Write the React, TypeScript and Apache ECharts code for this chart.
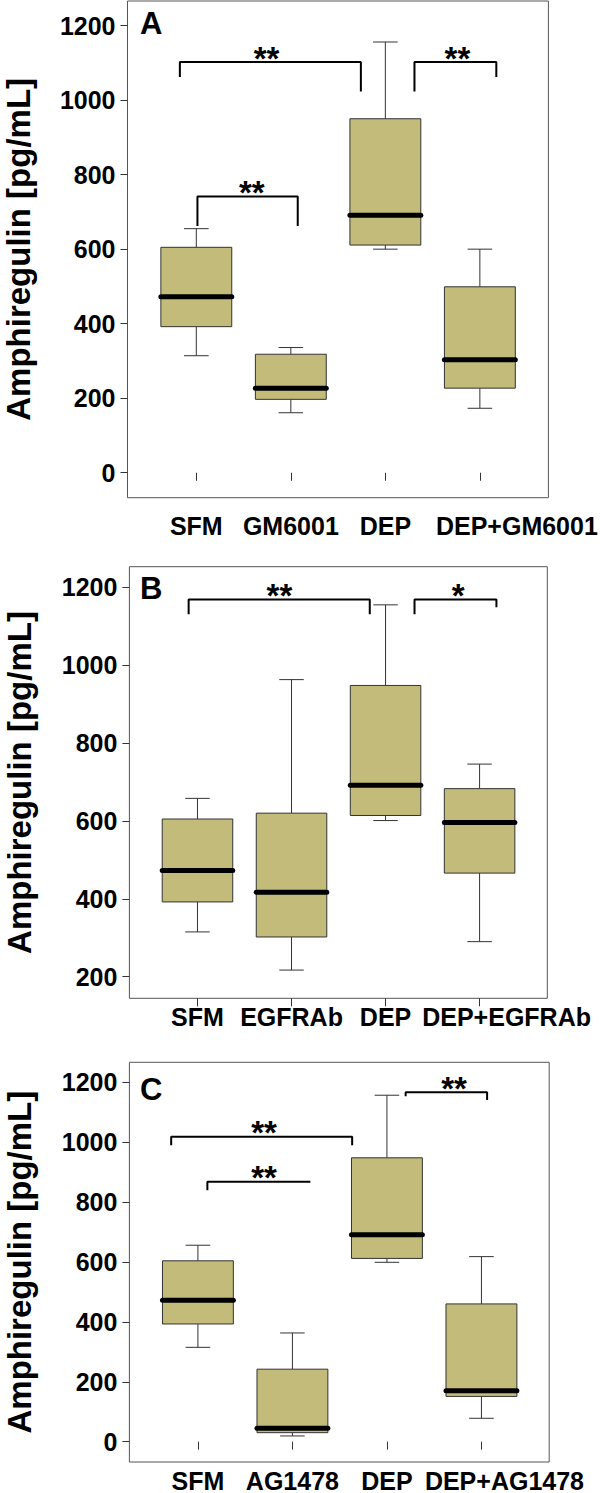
import React, { useEffect, useRef } from "react";
import * as echarts from "echarts";

const FONT = '"Liberation Sans", Arial, Helvetica, sans-serif';
const Y_TITLE = "Amphiregulin [pg/mL]";

// Panel A
const catsA = ["SFM", "GM6001", "DEP", "DEP+GM6001"];
const lowA = [314, 161, 600, 173];
const q1A = [392, 197, 611, 227];
const medA = [472, 227, 691, 303];
const q3A = [605, 318, 950, 499];
const highA = [655, 336, 1156, 600];
const ticksA = [0, 200, 400, 600, 800, 1000, 1200];
// brackets: [xLeft, yLeftEnd, xRight, yRightEnd, yTop, starX, stars]
const bracketsA: [number, number, number, number, number, number, string][] = [
  [0.826, 1062, 2.741, 1023, 1102, 1.743, "**"],
  [3.308, 1023, 4.174, 1062, 1102, 3.762, "**"],
  [1.012, 662, 2.073, 662, 741, 1.587, "**"],
];

// Panel B
const catsB = ["SFM", "EGFRAb", "DEP", "DEP+EGFRAb"];
const lowB = [315, 217, 601, 290];
const q1B = [392, 302, 614, 466];
const medB = [473, 417, 692, 596];
const q3B = [605, 620, 948, 683];
const highB = [658, 963, 1155, 746];
const ticksB = [200, 400, 600, 800, 1000, 1200];
const bracketsB: [number, number, number, number, number, number, string][] = [
  [0.906, 1131, 2.832, 1131, 1169, 1.871, "**"],
  [3.308, 1131, 4.179, 1149, 1169, 3.772, "*"],
];

// Panel C
const catsC = ["SFM", "AG1478", "DEP", "DEP+AG1478"];
const lowC = [315, 19, 599, 78];
const q1C = [393, 30, 612, 151];
const medC = [472, 44.5, 691, 170];
const q3C = [604, 242, 948, 460];
const highC = [656, 363, 1157, 618];
const ticksC = [0, 200, 400, 600, 800, 1000, 1200];
const bracketsC: [number, number, number, number, number, number, string][] = [
  [0.717, 990, 2.632, 990, 1018.6, 1.7, "**"],
  [1.1, 840, 2.19, 868, 868, 1.7, "**"],
  [3.198, 1154, 4.06, 1141, 1166.6, 3.71, "**"],
];

const panels = [
  { letter: "A", cats: catsA, low: lowA, q1: q1A, med: medA, q3: q3A, high: highA, ticks: ticksA, brackets: bracketsA,
    grid: { left: 127.5, top: 1, right: 51.6, height: 496.7 }, x: [0.272, 4.725], y: [-67, 1266], letterTop: 8, lastShift: 37, xMargin: 16 },
  { letter: "B", cats: catsB, low: lowB, q1: q1B, med: medB, q3: q3B, high: highB, ticks: ticksB, brackets: bracketsB,
    grid: { left: 129.4, top: 566.7, right: 52.7, height: 431.6 }, x: [0.276, 4.72], y: [144.5, 1253], letterTop: 573, lastShift: 27, xMargin: 6 },
  { letter: "C", cats: catsC, low: lowC, q1: q1C, med: medC, q3: q3C, high: highC, ticks: ticksC, brackets: bracketsC,
    grid: { left: 129.4, top: 1062.3, right: 50.8, height: 399.7 }, x: [0.275, 4.717], y: [-68, 1267], letterTop: 1074, lastShift: 23, xMargin: 6 },
];

const BOX_HALF = 0.375;
const CAP_HALF = 0.13;
const STAR_RAISE = 4; // px above the bracket line (glyph centre)

function renderBox(params: any, api: any) {
  const x = api.value(0);
  const low = api.value(1);
  const q1 = api.value(2);
  const med = api.value(3);
  const q3 = api.value(4);
  const high = api.value(5);
  const pt = (dx: number, v: number) => api.coord([x + dx, v]);
  const thin = { stroke: "#333", lineWidth: 1 };
  const l = (a: number[], b: number[], style: any) => ({
    type: "line",
    shape: { x1: a[0], y1: a[1], x2: b[0], y2: b[1] },
    style,
  });
  const tl = pt(-BOX_HALF, q3);
  const br = pt(BOX_HALF, q1);
  return {
    type: "group",
    children: [
      l(pt(0, q3), pt(0, high), thin),
      l(pt(-CAP_HALF, high), pt(CAP_HALF, high), thin),
      l(pt(0, low), pt(0, q1), thin),
      l(pt(-CAP_HALF, low), pt(CAP_HALF, low), thin),
      {
        type: "rect",
        shape: { x: tl[0], y: tl[1], width: br[0] - tl[0], height: br[1] - tl[1] },
        style: { fill: "#c2bb7a", stroke: "#333", lineWidth: 1 },
      },
      l(pt(-BOX_HALF, med), pt(BOX_HALF, med), { stroke: "#000", lineWidth: 5, lineCap: "round" }),
    ],
  };
}

export default function App() {
  const ref = useRef<HTMLDivElement>(null);
  useEffect(() => {
    document.body.style.margin = "0";
    if (!ref.current) return;
    const chart = echarts.init(ref.current, null, { renderer: "svg" });
    const textBase = { fontFamily: FONT, fontWeight: "bold" as const, color: "#000" };
    const grids: any[] = [];
    const xAxes: any[] = [];
    const yAxes: any[] = [];
    const series: any[] = [];
    const titles: any[] = [];
    panels.forEach((p, i) => {
      grids.push({
        ...p.grid,
        show: true,
        borderColor: "#555",
        borderWidth: 1,
        backgroundColor: "transparent",
        containLabel: false,
        outerBoundsMode: "none",
      });
      xAxes.push({
        gridIndex: i,
        type: "value",
        position: "bottom",
        offset: 0,
        min: p.x[0],
        max: p.x[1],
        axisLine: { show: false },
        splitLine: { show: false },
        axisTick: { show: true, customValues: [1, 2, 3, 4], length: 8, lineStyle: { color: "#333" } },
        axisLabel: {
          customValues: [1, 2, 3],
          formatter: (v: number) => p.cats[Math.round(v) - 1] ?? "",
          fontSize: 25,
          margin: p.xMargin,
          ...textBase,
        },
      });
      xAxes.push({
        gridIndex: i,
        type: "value",
        position: "bottom",
        offset: 0,
        min: p.x[0],
        max: p.x[1],
        axisLine: { show: false },
        splitLine: { show: false },
        axisTick: { show: false },
        axisLabel: {
          customValues: [4],
          formatter: () => "{s|" + p.cats[3] + "}",
          margin: p.xMargin,
          ...textBase,
          fontSize: 25,
          rich: {
            s: { ...textBase, fontSize: 25, padding: [0, 0, 0, 2 * p.lastShift] },
          },
        },
      });
      yAxes.push({
        gridIndex: i,
        type: "value",
        min: p.y[0],
        max: p.y[1],
        axisLine: { show: false },
        splitLine: { show: false },
        axisTick: { show: true, customValues: p.ticks, length: 7, lineStyle: { color: "#333" } },
        axisLabel: {
          customValues: p.ticks,
          formatter: (v: number) => String(Math.round(v)),
          fontSize: 25,
          margin: 12,
          ...textBase,
        },
        name: Y_TITLE,
        nameLocation: "middle",
        nameRotate: 90,
        nameGap: 93,
        nameTextStyle: { fontSize: 33, ...textBase },
      });
      titles.push({
        text: p.letter,
        left: 140,
        top: p.letterTop,
        padding: 0,
        textStyle: { fontSize: 31, ...textBase },
      });
      const xi = 2 * i;
      series.push({
        type: "custom",
        xAxisIndex: xi,
        yAxisIndex: i,
        renderItem: renderBox,
        clip: false,
        silent: true,
        encode: { x: 0, y: [1, 2, 3, 4, 5] },
        data: p.cats.map((_, j) => [j + 1, p.low[j], p.q1[j], p.med[j], p.q3[j], p.high[j]]),
      });
      p.brackets.forEach((b) => {
        const pts = [
          [b[0], b[1]],
          [b[0], b[4]],
          [b[2], b[4]],
          [b[2], b[3]],
        ];
        series.push({
          type: "line",
          xAxisIndex: xi,
          yAxisIndex: i,
          data: pts,
          symbol: "none",
          silent: true,
          lineStyle: { color: "#000", width: 2 },
          z: 5,
        });
      });
      const starTexts = p.brackets.map((b) => b[6]);
      series.push({
        type: "custom",
        xAxisIndex: xi,
        yAxisIndex: i,
        clip: false,
        silent: true,
        z: 6,
        encode: { x: 0, y: 1 },
        data: p.brackets.map((b) => [b[5], b[4]]),
        renderItem: (params: any, api: any) => {
          const c = api.coord([api.value(0), api.value(1)]);
          return {
            type: "text",
            x: c[0],
            y: c[1] - STAR_RAISE,
            style: {
              text: starTexts[params.dataIndex],
              fill: "#000",
              font: "bold 33px " + FONT,
              align: "center",
              verticalAlign: "middle",
            },
          };
        },
      });
    });
    chart.setOption({
      animation: false,
      backgroundColor: "#fff",
      title: titles,
      grid: grids,
      xAxis: xAxes,
      yAxis: yAxes,
      series,
    });
    return () => chart.dispose();
  }, []);
  return <div ref={ref} style={{ width: 600, height: 1493 }} />;
}
